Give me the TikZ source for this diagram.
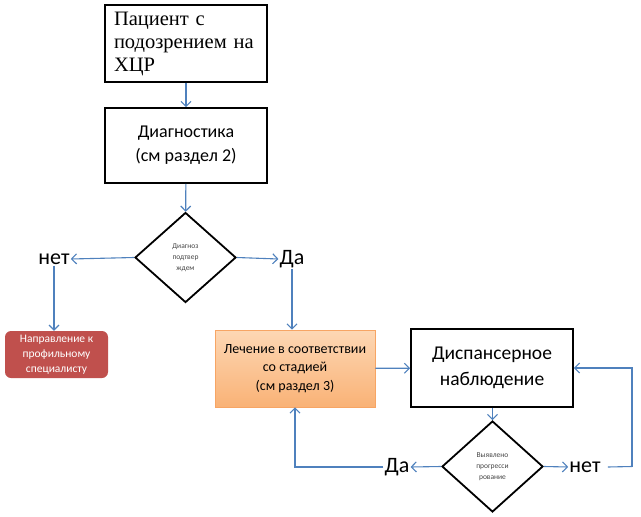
\documentclass[tikz,border=0pt]{standalone}
\usepackage{fontspec}
\setmainfont{Carlito}
\newfontfamily\serifcase{Liberation Serif}
\usetikzlibrary{calc, positioning, shapes.geometric, arrows.meta}

\begin{document}
\begin{tikzpicture}[x=1pt, y=-1pt]
    \tikzset{
      block/.style={
        rectangle, draw, line width=1.8pt, inner sep=2pt,
        minimum width=162pt, minimum height=77pt, align=center,
      },
      check/.style={
        diamond, draw, line width=1.8pt, inner sep=0pt,
        minimum width=101pt, minimum height=90pt, align=center,
        font=\fontsize{7.5}{11}\selectfont,
        text={rgb,255:red,70;green,70;blue,70},
      },
      answer/.style={
        inner sep=1pt, font=\fontsize{22}{26}\selectfont,
      },
      link/.style={
        -{Straight Barb[length=5pt, width=10pt]}, draw, line width=1.1pt,
        draw={rgb,255:red,79;green,129;blue,189},
      },
      wire/.style={
        draw, line width=1.1pt,
        draw={rgb,255:red,79;green,129;blue,189},
      },
    }

    \useasboundingbox (0,0) rectangle (641,517);

    \node[block, text width=144pt, align=left,
      font=\serifcase\fontsize{20.5}{23}\selectfont] (patient) at (186,43.5)
      {Пациент с\\подозрением на\\ХЦР};

    \node[block, minimum height=75pt, font=\fontsize{18}{24}\selectfont]
      (diag) at (186,145.5) {Диагностика\\(см раздел 2)};
    \draw[link] (patient) -- (diag);

    \node[check] (confirm) at (185.5,257.5) {Диагноз\\подтвер\\ждем};
    \draw[link] (diag) -- (confirm);

    \node[answer] (no1) at (54,259) {нет};
    \draw[link] (confirm.west) -- (no1.east);
    \node[answer] (yes1) at (292,259) {Да};
    \draw[link] (confirm.east) -- (yes1.west);

    \node[rectangle, rounded corners=6pt, inner sep=2pt,
      minimum width=103pt, minimum height=47pt, align=center,
      fill={rgb,255:red,192;green,80;blue,77}, text=white,
      font=\fontsize{11.5}{15}\selectfont] (refer) at (56.5,354.5)
      {Направление к\\профильному\\специалисту};
    \draw[link] (no1.south) -- (no1.south |- refer.north);

    \node[rectangle, inner sep=2pt, minimum width=160pt, minimum height=77pt,
      align=center, draw={rgb,255:red,247;green,165;blue,100}, line width=0.8pt,
      top color={rgb,255:red,253;green,215;blue,180},
      bottom color={rgb,255:red,249;green,178;blue,118},
      font=\fontsize{14}{18.5}\selectfont] (treat) at (295,368.5)
      {Лечение в соответствии\\со стадией\\(см раздел 3)};
    \draw[link] (yes1.south) -- (yes1.south |- treat.north);

    \node[block, minimum height=78pt, font=\fontsize{19.5}{26}\selectfont]
      (follow) at (492,368) {Диспансерное\\наблюдение};
    \draw[link] (treat) -- (follow);

    \node[check, minimum height=91pt] (progress) at (492.5,466.5)
      {Выявлено\\прогресси\\рование};
    \draw[link] (follow.south -| progress.north) -- (progress.north);

    \node[answer] (yes2) at (397,467) {Да};
    \draw[link] (progress.west) -- (yes2.east);
    \draw[link] (yes2.west) -| (treat.south);

    \node[answer] (no2) at (585,467) {нет};
    \draw[link] (progress.east) -- (no2.west);
    \coordinate (loop) at (632,466.5);
    \draw[wire] (no2.east) ++(6,0) -- (loop);
    \draw[link] (loop) |- (follow.east);
\end{tikzpicture}
\end{document}
